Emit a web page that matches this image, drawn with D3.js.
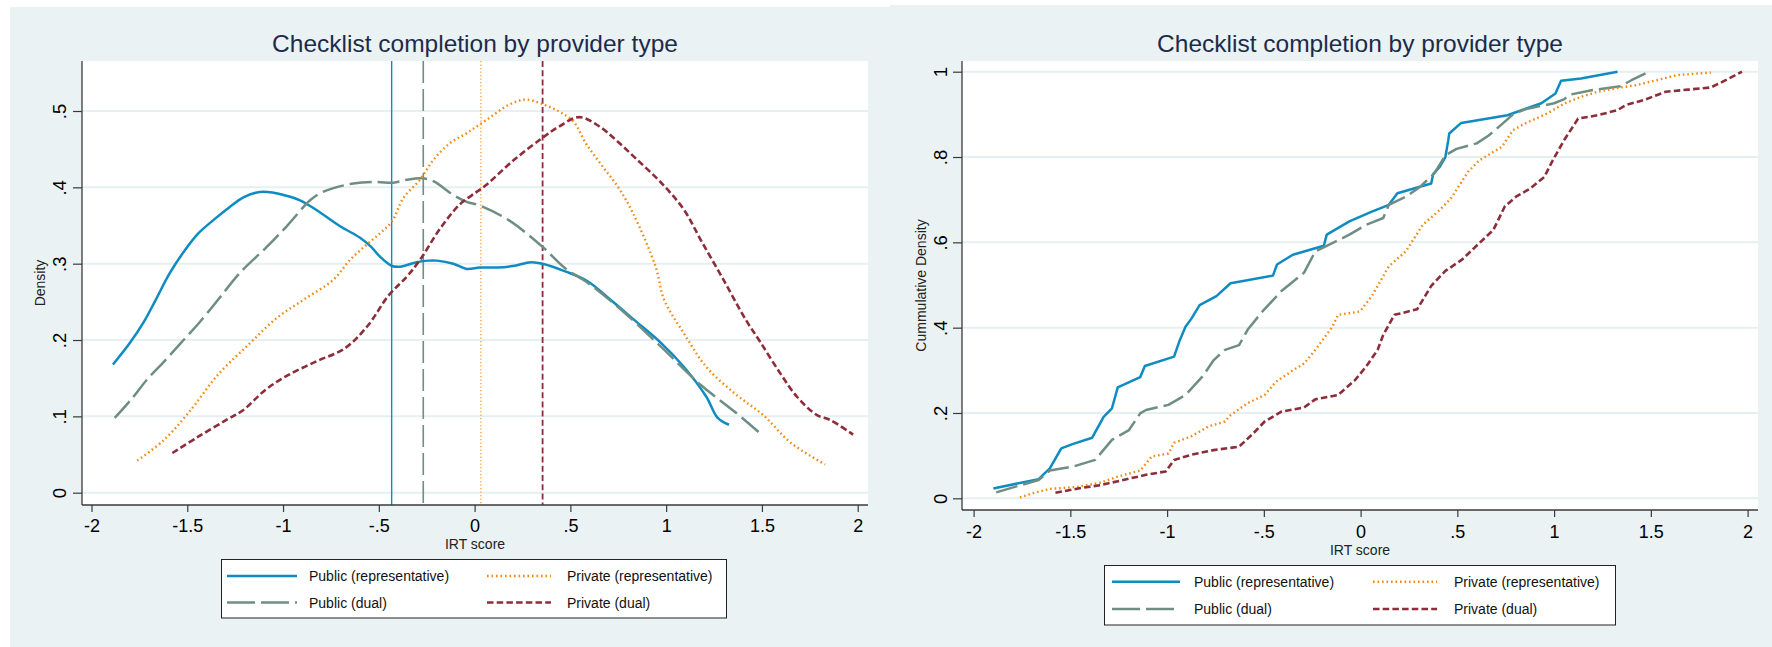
<!DOCTYPE html>
<html><head><meta charset="utf-8">
<script src="https://cdn.jsdelivr.net/npm/d3@7"></script>
<style>html,body{margin:0;padding:0;background:#fff;} svg{display:block;font-family:"Liberation Sans",Arial,Helvetica,sans-serif;}</style>
</head><body><svg id="c" width="1772" height="647"></svg>
<script>
// ---------------- DATA ----------------
const chartTitle = "Checklist completion by provider type";
const xAxisTitle = "IRT score";
const densAxisTitle = "Density";
const cdfAxisTitle = "Cummulative Density";
const seriesNames = ["Public (representative)", "Public (dual)", "Private (representative)", "Private (dual)"];
const xTicks = [-2, -1.5, -1, -0.5, 0, 0.5, 1, 1.5, 2];
const xTickLabels = ["-2", "-1.5", "-1", "-.5", "0", ".5", "1", "1.5", "2"];
const densTicks = [0, .1, .2, .3, .4, .5];
const densTickLabels = ["0", ".1", ".2", ".3", ".4", ".5"];
const cdfTicks = [0, .2, .4, .6, .8, 1];
const cdfTickLabels = ["0", ".2", ".4", ".6", ".8", "1"];
// group means (vertical lines)
const meanValues = [-0.433, -0.268, 0.033, 0.355];

// kernel densities [IRT score, density]
const pubRepDens = [[-1.888,.168],[-1.80,.196],[-1.726,.224],[-1.666,.252],[-1.593,.287],[-1.52,.315],[-1.445,.339],[-1.364,.357],[-1.28,.374],[-1.207,.387],[-1.12,.394],[-1.05,.393],[-0.998,.390],[-0.911,.383],[-0.824,.370],[-0.702,.349],[-0.598,.334],[-0.540,.322],[-0.493,.309],[-0.432,.297],[-0.389,.296],[-0.302,.302],[-0.240,.304],[-0.197,.304],[-0.111,.300],[-0.041,.293],[0.029,.295],[0.12,.295],[0.20,.297],[0.295,.302],[0.355,.300],[0.473,.290],[0.59,.277],[0.708,.253],[0.83,.227],[0.974,.196],[1.092,.165],[1.209,.126],[1.269,.098],[1.328,.089]];
const pubDualDens = [[-1.879,.098],[-1.79,.123],[-1.711,.148],[-1.62,.172],[-1.534,.196],[-1.44,.222],[-1.329,.256],[-1.225,.288],[-1.085,.322],[-0.981,.349],[-0.859,.383],[-0.80,.393],[-0.737,.399],[-0.633,.405],[-0.511,.407],[-0.424,.406],[-0.354,.410],[-0.276,.412],[-0.215,.408],[-0.111,.390],[-0.041,.381],[0.029,.376],[0.178,.357],[0.355,.322],[0.473,.294],[0.59,.275],[0.768,.239],[0.974,.191],[1.181,.141],[1.358,.106],[1.49,.078]];
const privRepDens = [[-1.761,.042],[-1.622,.069],[-1.489,.106],[-1.342,.154],[-1.18,.194],[-1.032,.229],[-0.885,.254],[-0.737,.279],[-0.65,.305],[-0.563,.325],[-0.493,.340],[-0.432,.355],[-0.372,.386],[-0.285,.410],[-0.215,.436],[-0.128,.458],[-0.041,.471],[0.06,.488],[0.178,.508],[0.266,.515],[0.355,.509],[0.443,.499],[0.517,.486],[0.58,.458],[0.66,.43],[0.75,.40],[0.827,.366],[0.945,.296],[0.989,.253],[1.092,.209],[1.209,.165],[1.358,.130],[1.505,.102],[1.653,.065],[1.83,.037]];
const privDualDens = [[-1.578,.052],[-1.445,.073],[-1.298,.095],[-1.209,.108],[-1.091,.135],[-0.974,.154],[-0.826,.172],[-0.678,.189],[-0.56,.218],[-0.45,.258],[-0.354,.283],[-0.285,.305],[-0.18,.346],[-0.076,.378],[0.011,.394],[0.06,.403],[0.206,.436],[0.355,.465],[0.443,.48],[0.546,.492],[0.65,.48],[0.738,.462],[0.841,.438],[0.974,.406],[1.092,.371],[1.181,.331],[1.299,.279],[1.417,.226],[1.49,.198],[1.594,.157],[1.682,.126],[1.785,.102],[1.859,.095],[1.976,.076]];

// cumulative distributions [IRT score, cumulative share]
const pubRepCdf = [[-1.898,.023],[-1.664,.045],[-1.606,.070],[-1.547,.117],[-1.489,.127],[-1.387,.142],[-1.328,.191],[-1.285,.211],[-1.255,.26],[-1.139,.284],[-1.115,.31],[-0.964,.332],[-0.935,.37],[-0.905,.402],[-0.876,.42],[-0.832,.453],[-0.745,.474],[-0.672,.504],[-0.453,.522],[-0.432,.548],[-0.35,.571],[-0.19,.592],[-0.175,.618],[-0.058,.649],[0.058,.672],[0.146,.688],[0.19,.715],[0.365,.738],[0.375,.76],[0.409,.777],[0.438,.80],[0.453,.839],[0.458,.855],[0.52,.88],[0.759,.898],[0.934,.926],[1.007,.949],[1.036,.979],[1.139,.984],[1.328,1.0]];
const pubDualCdf = [[-1.883,.014],[-1.664,.043],[-1.606,.065],[-1.489,.074],[-1.372,.09],[-1.285,.137],[-1.197,.16],[-1.139,.199],[-1.109,.207],[-0.993,.219],[-0.905,.242],[-0.818,.285],[-0.759,.324],[-0.701,.348],[-0.628,.359],[-0.584,.395],[-0.511,.436],[-0.409,.486],[-0.292,.529],[-0.234,.579],[-0.146,.598],[-0.058,.618],[0.029,.641],[0.117,.657],[0.146,.688],[0.234,.707],[0.307,.73],[0.38,.761],[0.438,.804],[0.496,.819],[0.60,.832],[0.66,.85],[0.70,.865],[0.788,.90],[0.85,.912],[1.0,.926],[1.05,.935],[1.08,.946],[1.20,.957],[1.343,.966],[1.40,.98],[1.489,1.0]];
const privRepCdf = [[-1.761,.002],[-1.693,.012],[-1.606,.022],[-1.46,.027],[-1.343,.037],[-1.255,.051],[-1.139,.065],[-1.08,.098],[-0.993,.105],[-0.964,.13],[-0.876,.145],[-0.788,.168],[-0.701,.18],[-0.672,.195],[-0.584,.223],[-0.496,.242],[-0.438,.273],[-0.35,.30],[-0.292,.316],[-0.234,.348],[-0.146,.402],[-0.117,.43],[-0.015,.437],[0.0,.44],[0.058,.474],[0.146,.544],[0.234,.579],[0.321,.641],[0.409,.676],[0.467,.703],[0.555,.765],[0.613,.792],[0.672,.808],[0.73,.824],[0.788,.863],[0.847,.878],[0.964,.902],[1.051,.925],[1.139,.941],[1.226,.953],[1.343,.963],[1.431,.969],[1.635,.992],[1.81,.998]];
const privDualCdf = [[-1.577,.013],[-1.46,.023],[-1.343,.031],[-1.226,.043],[-1.109,.055],[-1.007,.063],[-0.964,.09],[-0.876,.102],[-0.759,.113],[-0.628,.121],[-0.555,.152],[-0.496,.18],[-0.409,.203],[-0.292,.213],[-0.234,.232],[-0.117,.242],[-0.029,.277],[0.029,.309],[0.088,.348],[0.117,.383],[0.175,.43],[0.292,.443],[0.365,.498],[0.438,.533],[0.526,.56],[0.599,.592],[0.686,.629],[0.745,.684],[0.803,.707],[0.876,.726],[0.949,.753],[0.993,.792],[1.051,.839],[1.124,.89],[1.226,.898],[1.328,.91],[1.372,.922],[1.46,.933],[1.577,.953],[1.693,.958],[1.81,.963],[1.869,.976],[1.971,1.0]];

// ---------------- STYLE ----------------
const colors = ["#0e8cc2", "#6e8e84", "#f28a10", "#8e2d3a"];
const curveDash = [null, "22,6", "1.6,2.9", "6.5,3.2"];
const curveWidth = [2.5, 2.5, 2.4, 2.6];
const vDash = [null, "22,6", "1.2,2.3", "6,3.2"];
const vWidth = [1.4, 1.6, 1.1, 1.8];
const legendDash = [null, "28,6,28,6,2,30", "1.6,2.9", "6.5,3.2"];
const bgColor = "#eaf2f3";
const gridColor = "#e6eff1";
const axisColor = "#3a3a3a";
const titleColor = "#1c2b4a";

const svg = d3.select("#c");

function drawPanel(cfg) {
  const g = svg.append("g");
  g.append("rect").attr("x", cfg.bg[0]).attr("y", cfg.bg[1]).attr("width", cfg.bg[2]).attr("height", cfg.bg[3]).attr("fill", bgColor);
  g.append("rect").attr("x", cfg.plot[0]).attr("y", cfg.plot[1]).attr("width", cfg.plot[2] - cfg.plot[0]).attr("height", cfg.plot[3] - cfg.plot[1]).attr("fill", "#fff");

  const x = d3.scaleLinear().domain([-2, 2]).range(cfg.xRange);
  const y = d3.scaleLinear().domain(cfg.yDomain).range(cfg.yRange);

  // gridlines
  g.append("g").selectAll("line").data(cfg.yTicks).join("line")
    .attr("x1", cfg.plot[0]).attr("x2", cfg.plot[2])
    .attr("y1", d => y(d)).attr("y2", d => y(d))
    .attr("stroke", gridColor).attr("stroke-width", 2);

  // vertical mean lines
  if (cfg.means) {
    g.append("g").selectAll("line").data(cfg.means).join("line")
      .attr("x1", d => x(d)).attr("x2", d => x(d))
      .attr("y1", cfg.plot[1]).attr("y2", cfg.plot[3])
      .attr("stroke", (d, i) => colors[i]).attr("stroke-width", (d, i) => vWidth[i])
      .attr("stroke-dasharray", (d, i) => vDash[i]);
  }

  // curves
  const line = d3.line().x(d => x(d[0])).y(d => y(d[1])).curve(cfg.curve);
  g.append("g").selectAll("path").data(cfg.series).join("path")
    .attr("d", d => line(d)).attr("fill", "none")
    .attr("stroke", (d, i) => colors[i]).attr("stroke-width", (d, i) => curveWidth[i])
    .attr("stroke-dasharray", (d, i) => curveDash[i])
    .attr("stroke-linejoin", "round");

  // x axis
  const xAxis = d3.axisBottom(x).tickValues(xTicks).tickFormat((d, i) => xTickLabels[i]).tickSize(7).tickSizeOuter(0);
  const xg = g.append("g").attr("transform", `translate(0,${cfg.plot[3]})`).call(xAxis);
  xg.select(".domain").remove();
  xg.append("line").attr("x1", cfg.plot[0]).attr("x2", cfg.plot[2]).attr("y1", 0).attr("y2", 0).attr("stroke", axisColor).attr("stroke-width", 1.3);
  xg.selectAll(".tick line").attr("stroke", axisColor).attr("stroke-width", 1.2);
  xg.selectAll(".tick text").attr("fill", "#000").attr("font-size", "18px").attr("font-family", null)
    .attr("y", cfg.xLabelBase - cfg.plot[3]).attr("dy", null);

  // y axis
  const yAxis = d3.axisLeft(y).tickValues(cfg.yTicks).tickFormat((d, i) => cfg.yTickLabels[i]).tickSize(9).tickSizeOuter(0);
  const yg = g.append("g").attr("transform", `translate(${cfg.plot[0]},0)`).call(yAxis);
  yg.select(".domain").remove();
  yg.append("line").attr("x1", 0).attr("x2", 0).attr("y1", cfg.plot[1]).attr("y2", cfg.plot[3]).attr("stroke", axisColor).attr("stroke-width", 1.3);
  yg.selectAll(".tick line").attr("stroke", axisColor).attr("stroke-width", 1.2);
  yg.selectAll(".tick text").attr("fill", "#000").attr("font-size", "18.5px").attr("font-family", null)
    .attr("x", 0).attr("dy", null).attr("y", -(cfg.plot[0] - cfg.yLabelBase))
    .attr("text-anchor", "middle").attr("transform", "rotate(-90)");

  // titles
  g.append("text").attr("x", (cfg.plot[0] + cfg.plot[2]) / 2).attr("y", 52).attr("text-anchor", "middle")
    .attr("font-size", "24.5px").attr("fill", titleColor).text(chartTitle);
  g.append("text").attr("x", (cfg.plot[0] + cfg.plot[2]) / 2).attr("y", cfg.xTitleBase).attr("text-anchor", "middle")
    .attr("font-size", "14px").attr("fill", "#222").text(xAxisTitle);
  g.append("text").attr("transform", `translate(${cfg.yTitleBase},${(cfg.plot[1] + cfg.plot[3]) / 2}) rotate(-90)`)
    .attr("text-anchor", "middle").attr("font-size", "14px").attr("fill", "#222").text(cfg.yTitle);

  // legend
  const L = cfg.legend;
  const lg = g.append("g");
  lg.append("rect").attr("x", L.box[0]).attr("y", L.box[1]).attr("width", L.box[2]).attr("height", L.box[3])
    .attr("fill", "#fff").attr("stroke", "#222").attr("stroke-width", 1);
  const order = [0, 2, 1, 3];
  order.forEach((si, k) => {
    const col = k % 2, row = Math.floor(k / 2);
    const yy = L.rows[row];
    lg.append("line").attr("x1", L.sampleX[col]).attr("x2", L.sampleX[col] + L.sampleW[col])
      .attr("y1", yy).attr("y2", yy).attr("stroke", colors[si]).attr("stroke-width", curveWidth[si])
      .attr("stroke-dasharray", legendDash[si]);
    lg.append("text").attr("x", L.textX[col]).attr("y", yy + 5).attr("font-size", "14px").attr("fill", "#111").text(seriesNames[si]);
  });
}

drawPanel({
  bg: [10, 7, 880, 640], plot: [82, 61, 868, 505],
  xRange: [91.5, 857.7], yDomain: [0, .5], yRange: [492.7, 111],
  yTicks: densTicks, yTickLabels: densTickLabels, yTitle: densAxisTitle,
  xLabelBase: 531.5, xTitleBase: 548.5, yLabelBase: 66, yTitleBase: 45,
  means: meanValues, curve: d3.curveCatmullRom.alpha(0.5),
  series: [pubRepDens, pubDualDens, privRepDens, privDualDens],
  legend: { box: [221.5, 559.5, 505, 58.5], rows: [576, 602.5], sampleX: [227, 487], sampleW: [70, 64], textX: [309, 567] }
});

drawPanel({
  bg: [890, 5, 882, 642], plot: [962, 61, 1758, 510],
  xRange: [973.6, 1747.6], yDomain: [0, 1], yRange: [498.3, 71.7],
  yTicks: cdfTicks, yTickLabels: cdfTickLabels, yTitle: cdfAxisTitle,
  xLabelBase: 537.5, xTitleBase: 554.5, yLabelBase: 947, yTitleBase: 926,
  means: null, curve: d3.curveLinear,
  series: [pubRepCdf, pubDualCdf, privRepCdf, privDualCdf],
  legend: { box: [1104.5, 565.5, 511, 59.5], rows: [581.7, 609], sampleX: [1112, 1373], sampleW: [68, 64], textX: [1194, 1454] }
});
</script>
</body></html>
